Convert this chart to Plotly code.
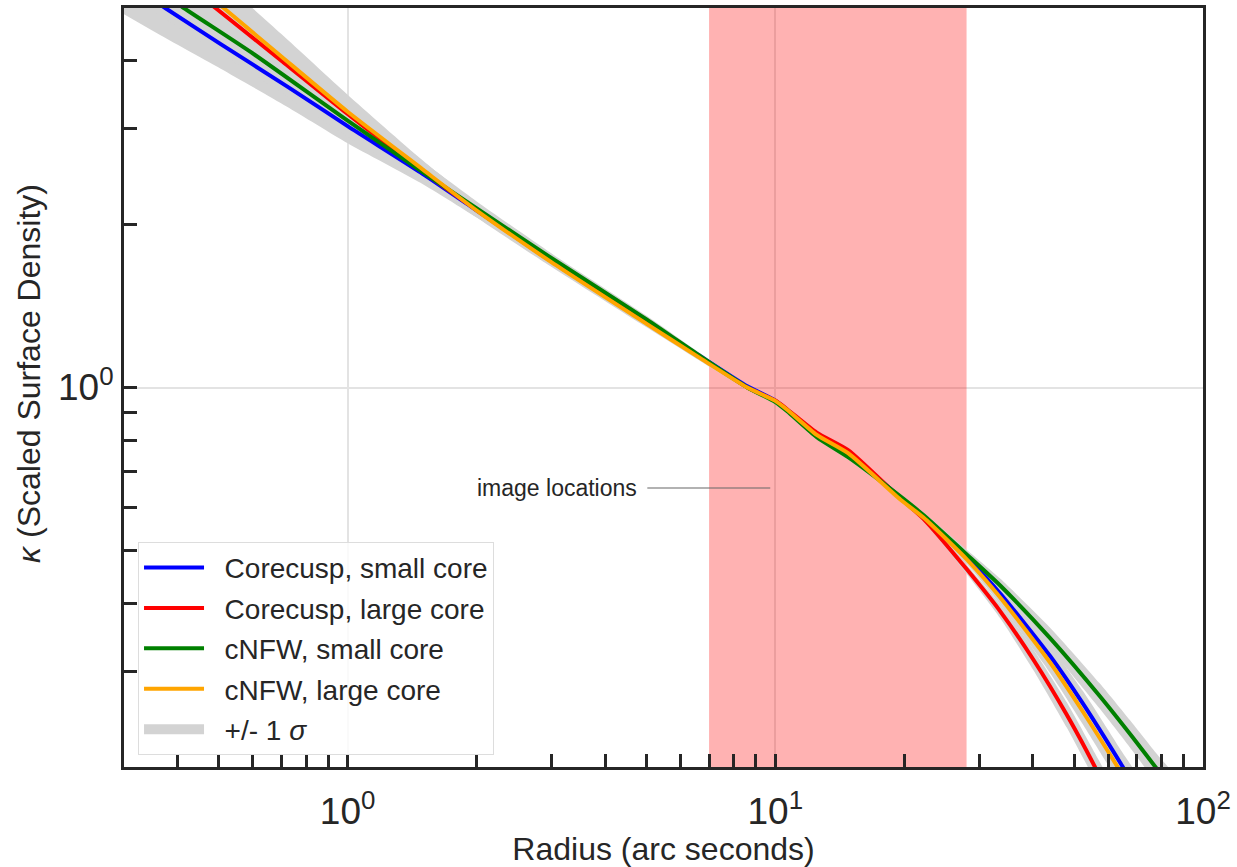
import math
import plotly.graph_objects as go

# ---------------- data ----------------
# Corecusp, small core (blue)
r_cc_small = [0.30, 0.376, 0.505, 0.72, 1.0, 1.48, 2.0, 3.0, 5.0, 6.7, 8.6, 10.0, 10.66, 12.5, 14.8, 19.6, 22.2, 28.1, 33.6, 43.9, 52.4, 64.7, 71.3]
k_cc_small = [5.60, 4.99, 4.29, 3.59, 3.03, 2.49, 2.12, 1.715, 1.325, 1.14, 1.005, 0.946, 0.910, 0.818, 0.757, 0.628, 0.580, 0.4855, 0.4171, 0.3202, 0.2616, 0.2010, 0.177]
s_cc_small = [0.15, 0.135, 0.11, 0.09, 0.075, 0.045, 0.03, 0.02, 0.015, 0.012, 0.01, 0.01, 0.01, 0.01, 0.01, 0.01, 0.012, 0.02, 0.03, 0.045, 0.055, 0.06, 0.065]

# Corecusp, large core (red)
r_cc_large = [0.30, 0.45, 0.491, 0.70, 1.0, 1.48, 2.0, 3.0, 5.0, 6.7, 8.6, 10.0, 10.66, 12.5, 14.8, 19.6, 22.2, 28.1, 33.6, 40.1, 48.1, 55.9, 60.5]
k_cc_large = [6.80, 5.28, 5.00, 4.00, 3.19, 2.52, 2.125, 1.705, 1.32, 1.135, 1.0, 0.946, 0.912, 0.826, 0.767, 0.625, 0.573, 0.4615, 0.3866, 0.3155, 0.249, 0.200, 0.176]
s_cc_large = [0.13, 0.11, 0.105, 0.09, 0.07, 0.045, 0.03, 0.02, 0.015, 0.012, 0.01, 0.01, 0.01, 0.01, 0.01, 0.01, 0.012, 0.02, 0.03, 0.045, 0.055, 0.06, 0.065]

# cNFW, small core (green)
r_nfw_small = [0.30, 0.414, 0.593, 1.0, 1.48, 2.0, 3.0, 5.0, 6.7, 8.6, 10.0, 10.66, 12.5, 14.8, 19.6, 22.2, 28.1, 33.6, 43.9, 57.4, 68.6, 78.1, 85.0]
k_nfw_small = [5.95, 5.00, 4.15, 3.10, 2.51, 2.14, 1.73, 1.335, 1.14, 1.0, 0.940, 0.904, 0.810, 0.744, 0.630, 0.582, 0.4916, 0.4313, 0.3455, 0.2700, 0.2264, 0.1982, 0.1822]
s_nfw_small = [0.12, 0.10, 0.09, 0.07, 0.045, 0.03, 0.02, 0.015, 0.012, 0.01, 0.01, 0.01, 0.01, 0.01, 0.01, 0.012, 0.02, 0.03, 0.045, 0.055, 0.06, 0.065, 0.065]

# cNFW, large core (orange)
r_nfw_large = [0.30, 0.513, 0.70, 1.0, 1.48, 2.0, 3.0, 5.0, 6.7, 8.6, 10.0, 10.66, 12.5, 14.8, 19.6, 22.2, 28.1, 33.6, 43.9, 52.4, 63.6, 69.3]
k_nfw_large = [7.10, 5.00, 4.07, 3.22, 2.54, 2.12, 1.70, 1.31, 1.13, 1.0, 0.945, 0.910, 0.818, 0.757, 0.622, 0.576, 0.4815, 0.4101, 0.3115, 0.2528, 0.1982, 0.177]
s_nfw_large = [0.14, 0.115, 0.10, 0.075, 0.04, 0.03, 0.02, 0.015, 0.012, 0.01, 0.01, 0.01, 0.01, 0.01, 0.01, 0.012, 0.02, 0.03, 0.045, 0.055, 0.06, 0.065]

series_names = ["Corecusp, small core", "Corecusp, large core", "cNFW, small core", "cNFW, large core"]
series_colors = ["#0000ff", "#ff0000", "#008000", "#ffa500"]
series_r = [r_cc_small, r_cc_large, r_nfw_small, r_nfw_large]
series_k = [k_cc_small, k_cc_large, k_nfw_small, k_nfw_large]
series_s = [s_cc_small, s_cc_large, s_nfw_small, s_nfw_large]

band_name = "+/- 1 <i>σ</i>"

# image-location span and annotation
span_x = [7.0, 28.0]
note_text = "image locations"
note_line_x = [5.02, 9.73]
note_line_y = [0.653, 0.653]

# axis titles and ticks
x_title = "Radius (arc seconds)"
y_title = "<i>κ</i> (Scaled Surface Density)"
x_range = [0.3, 100.0]
y_range = [0.2, 5.0]
x_major = [1, 10, 100]
x_major_text = ["10<sup>0</sup>", "10<sup>1</sup>", "10<sup>2</sup>"]
x_minor = [0.3, 0.4, 0.5, 0.6, 0.7, 0.8, 0.9, 2, 3, 4, 5, 6, 7, 8, 9, 20, 30, 40, 50, 60, 70, 80, 90]
y_major = [1]
y_major_text = ["10<sup>0</sup>"]
y_minor = [0.2, 0.3, 0.4, 0.5, 0.6, 0.7, 0.8, 0.9, 2, 3, 4, 5]

# ---------------- figure ----------------
FONT = "Liberation Sans, Arial, Helvetica, sans-serif"
INK = "#262626"
GAP = "\u00a0\u00a0"

fig = go.Figure()

# image-location span (drawn above the grid, below the curves)
fig.add_trace(go.Scatter(
    x=[span_x[0], span_x[1], span_x[1], span_x[0], span_x[0]],
    y=[y_range[0], y_range[0], y_range[1], y_range[1], y_range[0]],
    mode="lines", fill="toself", fillcolor="rgba(255,0,0,0.30)",
    line=dict(width=0, color="rgba(255,0,0,0)"),
    showlegend=False, hoverinfo="skip"))

# +/- 1 sigma bands
for i, (r, k, s) in enumerate(zip(series_r, series_k, series_s)):
    up = [ki * (1 + si) for ki, si in zip(k, s)]
    lo = [ki / (1 + si) for ki, si in zip(k, s)]
    fig.add_trace(go.Scatter(
        x=list(r) + list(r)[::-1], y=up + lo[::-1],
        mode="lines", fill="toself", fillcolor="#d3d3d3",
        line=dict(width=0, color="#d3d3d3", shape="spline", smoothing=0.6),
        showlegend=False, hoverinfo="skip"))

# legend entry for the bands
fig.add_trace(go.Scatter(x=[None], y=[None], mode="lines", name=GAP + band_name,
                         line=dict(color="#d3d3d3", width=20),
                         legendrank=5, legendgroup="g5"))

# annotation leader line
fig.add_trace(go.Scatter(x=note_line_x, y=note_line_y, mode="lines",
                         line=dict(color="#666666", width=1.2),
                         showlegend=False, hoverinfo="skip"))

# model curves
for j, (name, c, r, k) in enumerate(zip(series_names, series_colors, series_r, series_k)):
    fig.add_trace(go.Scatter(x=r, y=k, mode="lines", name=GAP + name,
                             line=dict(color=c, width=4, shape="spline", smoothing=0.6),
                             legendrank=j + 1, legendgroup="g%d" % j))

fig.add_annotation(x=math.log10(note_line_x[0]) - 0.02, y=math.log10(note_line_y[0]),
                   xref="x", yref="y", text=note_text, showarrow=False,
                   xanchor="right", yanchor="middle",
                   font=dict(size=23, color=INK, family=FONT))

# y-axis title (placed as rotated text to match the reference position)
fig.add_annotation(x=-0.088, y=0.518, xref="paper", yref="paper", text=y_title,
                   textangle=-90, showarrow=False, xanchor="center", yanchor="middle",
                   font=dict(size=32, color=INK, family=FONT))

axis_common = dict(
    type="log", showline=True, linewidth=3, linecolor=INK, mirror=True,
    ticks="inside", ticklen=13, tickwidth=3, tickcolor=INK,
    showgrid=True, gridcolor="#e3e3e3", gridwidth=1.5, zeroline=False,
    tickfont=dict(size=37, color=INK, family=FONT),
)

fig.update_layout(
    width=1237, height=867,
    margin=dict(l=124, r=34, t=5, b=100),
    paper_bgcolor="white", plot_bgcolor="white",
    font=dict(family=FONT, color=INK),
    xaxis=dict(
        **axis_common,
        range=[math.log10(x_range[0]), math.log10(x_range[1])],
        tickmode="array", tickvals=x_major, ticktext=x_major_text,
        ticklabelstandoff=10,
        minor=dict(tickmode="array", tickvals=x_minor, ticks="inside", ticklen=13,
                   tickwidth=3, tickcolor=INK, showgrid=False),
        title=dict(text=x_title, font=dict(size=32, color=INK, family=FONT), standoff=2),
    ),
    yaxis=dict(
        **axis_common,
        range=[math.log10(y_range[0]), math.log10(y_range[1])],
        tickmode="array", tickvals=y_major, ticktext=y_major_text,
        ticklabelstandoff=0,
        minor=dict(tickmode="array", tickvals=y_minor, ticks="inside", ticklen=13,
                   tickwidth=3, tickcolor=INK, showgrid=False),
    ),
    legend=dict(
        x=0.013, y=0.016, xanchor="left", yanchor="bottom",
        bgcolor="rgba(255,255,255,0.8)", bordercolor="#dddddd", borderwidth=1,
        font=dict(size=28, color=INK, family=FONT), itemwidth=60,
        tracegroupgap=1,
    ),
    showlegend=True,
)

fig.write_html("out.html")
